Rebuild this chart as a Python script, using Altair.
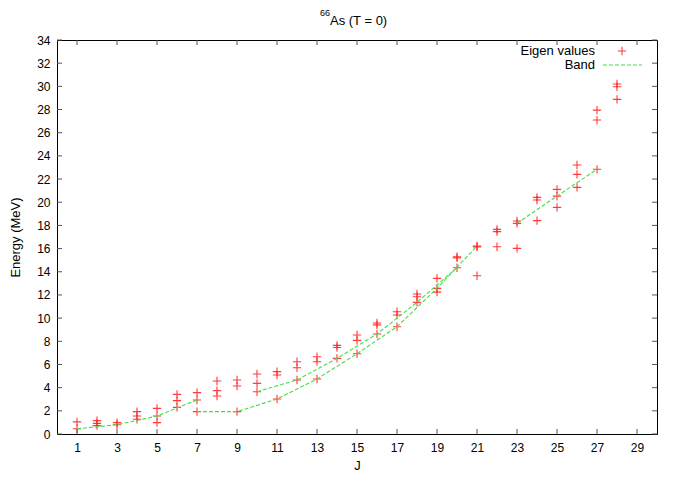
import altair as alt
import pandas as pd

# ---- data ----
eig_J = [1, 1,
         2, 2, 2,
         3, 3,
         4, 4, 4,
         5, 5, 5,
         6, 6, 6,
         7, 7, 7,
         8, 8, 8,
         9, 9, 9,
         10, 10, 10,
         11, 11, 11,
         12, 12, 12,
         13, 13, 13,
         14, 14, 14,
         15, 15, 15,
         16, 16, 16,
         17, 17, 17,
         18, 18, 18,
         19, 19, 19,
         20, 20, 20,
         21, 21, 21,
         22, 22, 22,
         23, 23, 23,
         24, 24, 24,
         25, 25, 25,
         26, 26, 26,
         27, 27, 27,
         28, 28, 28]
eig_E = [1.05, 0.45,
         1.15, 0.92, 0.72,
         0.98, 0.80,
         1.93, 1.55, 1.27,
         2.21, 1.55, 0.98,
         3.42, 2.88, 2.30,
         3.57, 2.93, 1.93,
         4.57, 3.74, 3.28,
         4.66, 4.14, 1.93,
         5.18, 4.37, 3.65,
         5.38, 5.09, 3.02,
         6.24, 5.72, 4.66,
         6.67, 6.24, 4.75,
         7.65, 7.46, 6.53,
         8.54, 8.08, 6.93,
         9.58, 9.42, 8.63,
         10.55, 10.27, 9.26,
         12.08, 11.85, 11.36,
         13.43, 12.57, 12.24,
         15.30, 15.20, 14.35,
         16.22, 16.15, 13.66,
         17.66, 17.46, 16.16,
         18.38, 18.18, 16.02,
         20.42, 20.19, 18.41,
         21.11, 20.53, 19.56,
         23.21, 22.40, 21.28,
         27.95, 27.09, 22.84,
         30.20, 29.97, 28.88]

bandA_J = [1, 3, 5, 7]
bandA_E = [0.45, 0.80, 1.55, 2.93]
bandB_J = [7, 9, 11, 13, 15, 17, 19, 21]
bandB_E = [1.93, 1.93, 3.02, 4.75, 6.93, 9.26, 12.57, 16.22]
bandC_J = [10, 12, 14, 16, 18, 20]
bandC_E = [3.65, 4.66, 6.53, 8.63, 11.36, 14.35]
bandD_J = [23, 25, 27]
bandD_E = [18.18, 20.53, 22.84]

x_ticks = list(range(1, 30, 2))
y_ticks = list(range(0, 35, 2))
legend_labels = ["Eigen values", "Band"]
title_sup = "66"
title_main = "As (T = 0)"
x_title = "J"
y_title = "Energy (MeV)"

# ---- build tables ----
df_eig = pd.DataFrame({"J": eig_J, "E": eig_E})
band_rows = []
for name, js, es in [("A", bandA_J, bandA_E), ("B", bandB_J, bandB_E),
                     ("C", bandC_J, bandC_E), ("D", bandD_J, bandD_E)]:
    for j, e in zip(js, es):
        band_rows.append({"seg": name, "J": j, "E": e})
df_band = pd.DataFrame(band_rows)
df_xt = pd.DataFrame({"J": x_ticks})
df_yt = pd.DataFrame({"E": y_ticks})

W, H = 600, 394
FONT = "Liberation Sans"
RED = "#ff1a1a"
GREEN = "#44dd44"
PLUS = "M-1,0H1M0,-1V1"
TICK = 5
TICKC = "#555555"

xs = alt.Scale(domain=[0, 30], nice=False, zero=False)
ys = alt.Scale(domain=[0, 34], nice=False, zero=False)

x_axis = alt.Axis(values=x_ticks, title=x_title, tickSize=0, labelPadding=8, titlePadding=6,
                  grid=False, domain=False, labelOverlap=False, labelFlush=False,
                  titleFontWeight="normal")
y_axis = alt.Axis(values=y_ticks, title=y_title, tickSize=0, labelPadding=7, titlePadding=14,
                  grid=False, domain=False, labelOverlap=False, labelFlush=False,
                  titleFontWeight="normal")


def X():
    return alt.X("J:Q", scale=xs, axis=x_axis)


def Y():
    return alt.Y("E:Q", scale=ys, axis=y_axis)


pts = alt.Chart(df_eig).mark_point(shape=PLUS, size=70, color=RED, strokeWidth=1.1,
                                   opacity=0.85, filled=False).encode(x=X(), y=Y())

lines = alt.Chart(df_band).mark_line(color=GREEN, strokeWidth=1.1, strokeDash=[4, 2]).encode(
    x=X(), y=Y(), detail="seg:N", order="J:Q")

xt_bot = alt.Chart(df_xt).mark_rule(color=TICKC).encode(
    x=X(), y=alt.value(H), y2=alt.value(H - TICK))
xt_top = alt.Chart(df_xt).mark_rule(color=TICKC).encode(
    x=X(), y=alt.value(0), y2=alt.value(TICK))
yt_left = alt.Chart(df_yt).mark_rule(color=TICKC).encode(
    y=Y(), x=alt.value(0), x2=alt.value(TICK))
yt_right = alt.Chart(df_yt).mark_rule(color=TICKC).encode(
    y=Y(), x=alt.value(W), x2=alt.value(W - TICK))

leg1 = alt.Chart(pd.DataFrame({"t": [legend_labels[0]]})).mark_text(
    align="right", baseline="middle", font=FONT, fontSize=13, color="black").encode(
    text="t:N", x=alt.value(538), y=alt.value(11))
leg2 = alt.Chart(pd.DataFrame({"t": [legend_labels[1]]})).mark_text(
    align="right", baseline="middle", font=FONT, fontSize=13, color="black").encode(
    text="t:N", x=alt.value(538), y=alt.value(25))
leg_pt = alt.Chart(pd.DataFrame({"t": [legend_labels[0]]})).mark_point(
    shape=PLUS, size=70, color=RED, strokeWidth=1.1, opacity=0.85, filled=False).encode(
    x=alt.value(565), y=alt.value(11))
leg_ln = alt.Chart(pd.DataFrame({"t": [legend_labels[1]]})).mark_rule(
    color=GREEN, strokeWidth=1.1, strokeDash=[4, 2]).encode(
    x=alt.value(546), x2=alt.value(585), y=alt.value(25))

# title built from a superscript part and a main part
ttl_sup = alt.Chart(pd.DataFrame({"t": [title_sup]})).mark_text(
    align="right", baseline="alphabetic", font=FONT, fontSize=9, color="black").encode(
    text="t:N", x=alt.value(273), y=alt.value(-24))
ttl_main = alt.Chart(pd.DataFrame({"t": [title_main]})).mark_text(
    align="left", baseline="alphabetic", font=FONT, fontSize=13, color="black").encode(
    text="t:N", x=alt.value(273), y=alt.value(-15))

chart = alt.layer(pts, lines, xt_bot, xt_top, yt_left, yt_right,
                  leg1, leg2, leg_pt, leg_ln, ttl_sup, ttl_main).properties(
    width=W, height=H,
    padding={"left": 49, "top": 32, "right": 16, "bottom": 42},
    autosize=alt.AutoSizeParams(type="none"),
).configure_view(stroke="black", strokeWidth=1).configure_axis(
    labelFont=FONT, labelFontSize=12, labelColor="black",
    titleFont=FONT, titleFontSize=13, titleFontWeight="normal", titleColor="black",
)

chart.save("out.html", embed_options={"renderer": "svg", "actions": False})
